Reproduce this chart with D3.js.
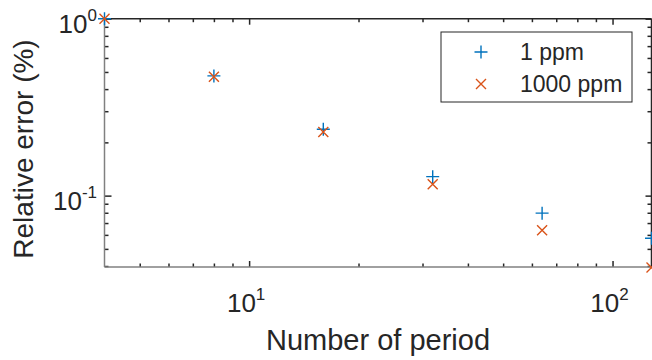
<html>
<head>
<script src="https://d3js.org/d3.v7.min.js"></script>
<style>
  body { margin: 0; background: #fff; }
  text { font-family: "Liberation Sans", Arial, Helvetica, sans-serif; fill: #262626; }
</style>
</head>
<body>
<svg id="chart" width="652" height="360"></svg>
<script>
// data
const periods = [4, 8, 16, 32, 64, 128];
const err1ppm = [1.0, 0.475, 0.237, 0.128, 0.0796, 0.0574];
const err1000ppm = [1.0, 0.47, 0.229, 0.116, 0.0637, 0.0392];
const seriesNames = ["1 ppm", "1000 ppm"];
const xMajor = [10, 100];
const yMajor = [0.1, 1];

const svg = d3.select("svg#chart");
const plotL = 104.5, plotR = 651.5, plotT = 18.7, plotB = 267;

const x = d3.scaleLog().domain([4, 128]).range([plotL, plotR]);
const y = d3.scaleLog().domain([0.0395, 1]).range([plotB, plotT]);

const blue = "#0072BD", orange = "#D95319";

// minor tick values
const xMinor = [];
[1, 10].forEach(b => d3.range(2, 10).forEach(k => { const v = b * k; if (v > 4 && v < 128) xMinor.push(v); }));
const yMinor = [];
[0.01, 0.1].forEach(b => d3.range(2, 10).forEach(k => { const v = b * k; if (v > 0.0395 && v < 1) yMinor.push(v); }));

const axes = svg.append("g");

// bottom & top ticks
axes.append("g").attr("transform", `translate(0,${plotB})`)
  .call(d3.axisBottom(x).tickValues(xMinor).tickSizeInner(-3.5).tickSizeOuter(0).tickFormat(""));
axes.append("g").attr("transform", `translate(0,${plotB})`)
  .call(d3.axisBottom(x).tickValues(xMajor).tickSizeInner(-6).tickSizeOuter(0).tickFormat(""));
axes.append("g").attr("transform", `translate(0,${plotT})`)
  .call(d3.axisTop(x).tickValues(xMinor).tickSizeInner(-3.5).tickSizeOuter(0).tickFormat(""));
axes.append("g").attr("transform", `translate(0,${plotT})`)
  .call(d3.axisTop(x).tickValues(xMajor).tickSizeInner(-6).tickSizeOuter(0).tickFormat(""));

// left & right ticks
axes.append("g").attr("transform", `translate(${plotL},0)`)
  .call(d3.axisLeft(y).tickValues(yMinor).tickSizeInner(-4).tickSizeOuter(0).tickFormat(""));
axes.append("g").attr("transform", `translate(${plotL},0)`)
  .call(d3.axisLeft(y).tickValues(yMajor).tickSizeInner(-7).tickSizeOuter(0).tickFormat(""));
axes.append("g").attr("transform", `translate(${plotR},0)`)
  .call(d3.axisRight(y).tickValues(yMinor).tickSizeInner(-4).tickSizeOuter(0).tickFormat(""));
axes.append("g").attr("transform", `translate(${plotR},0)`)
  .call(d3.axisRight(y).tickValues(yMajor).tickSizeInner(-6).tickSizeOuter(0).tickFormat(""));

axes.selectAll(".tick line").attr("stroke", "#262626").attr("stroke-width", 1.5);
axes.selectAll(".domain").remove();

// box
svg.append("line").attr("x1", plotL).attr("x2", plotR).attr("y1", plotT).attr("y2", plotT)
  .attr("stroke", "#262626").attr("stroke-width", 1.5);
svg.append("line").attr("x1", plotR).attr("x2", plotR).attr("y1", plotT).attr("y2", plotB)
  .attr("stroke", "#262626").attr("stroke-width", 1.5);
svg.append("line").attr("x1", plotL).attr("x2", plotL).attr("y1", plotT).attr("y2", plotB)
  .attr("stroke", "#808080").attr("stroke-width", 1.5);
svg.append("line").attr("x1", plotL).attr("x2", plotR).attr("y1", plotB).attr("y2", plotB)
  .attr("stroke", "#808080").attr("stroke-width", 1.5);

// tick labels
function powLabel(sel, exp) {
  sel.append("tspan").text("10");
  sel.append("tspan").attr("dy", -12).attr("font-size", 17).text(exp);
}
xMajor.forEach(v => {
  const t = svg.append("text").attr("x", x(v) - 3).attr("y", 312)
    .attr("text-anchor", "middle").attr("font-size", 26);
  powLabel(t, Math.round(Math.log10(v)));
});
yMajor.forEach(v => {
  const t = svg.append("text").attr("x", 97).attr("y", y(v) + 14)
    .attr("text-anchor", "end").attr("font-size", 26);
  powLabel(t, Math.round(Math.log10(v)));
});

// axis labels
svg.append("text").attr("x", 378).attr("y", 350).attr("text-anchor", "middle")
  .attr("font-size", 29).text("Number of period");
svg.append("text").attr("transform", "translate(33,149) rotate(-90)")
  .attr("text-anchor", "middle").attr("font-size", 28).text("Relative error (%)");

// markers
function drawPlus(g, cx, cy, s, color) {
  g.append("path").attr("d", `M${cx - s},${cy}H${cx + s}M${cx},${cy - s}V${cy + s}`)
    .attr("stroke", color).attr("stroke-width", 1.4).attr("fill", "none");
}
function drawX(g, cx, cy, s, color) {
  g.append("path").attr("d", `M${cx - s},${cy - s}L${cx + s},${cy + s}M${cx - s},${cy + s}L${cx + s},${cy - s}`)
    .attr("stroke", color).attr("stroke-width", 1.4).attr("fill", "none");
}
const marks = svg.append("g");
periods.forEach((p, i) => drawPlus(marks, x(p), y(err1ppm[i]), 6.5, blue));
periods.forEach((p, i) => drawX(marks, x(p), y(err1000ppm[i]), 5, orange));

// legend
const lg = svg.append("g");
lg.append("rect").attr("x", 441).attr("y", 32).attr("width", 191).attr("height", 70)
  .attr("fill", "#fff").attr("stroke", "#262626").attr("stroke-width", 1);
drawPlus(lg, 481, 52, 6.5, blue);
drawX(lg, 481, 84, 5, orange);
seriesNames.forEach((n, i) => {
  lg.append("text").attr("x", 520).attr("y", 52 + i * 32 + 8).attr("font-size", 23).text(n);
});
</script>
</body>
</html>
